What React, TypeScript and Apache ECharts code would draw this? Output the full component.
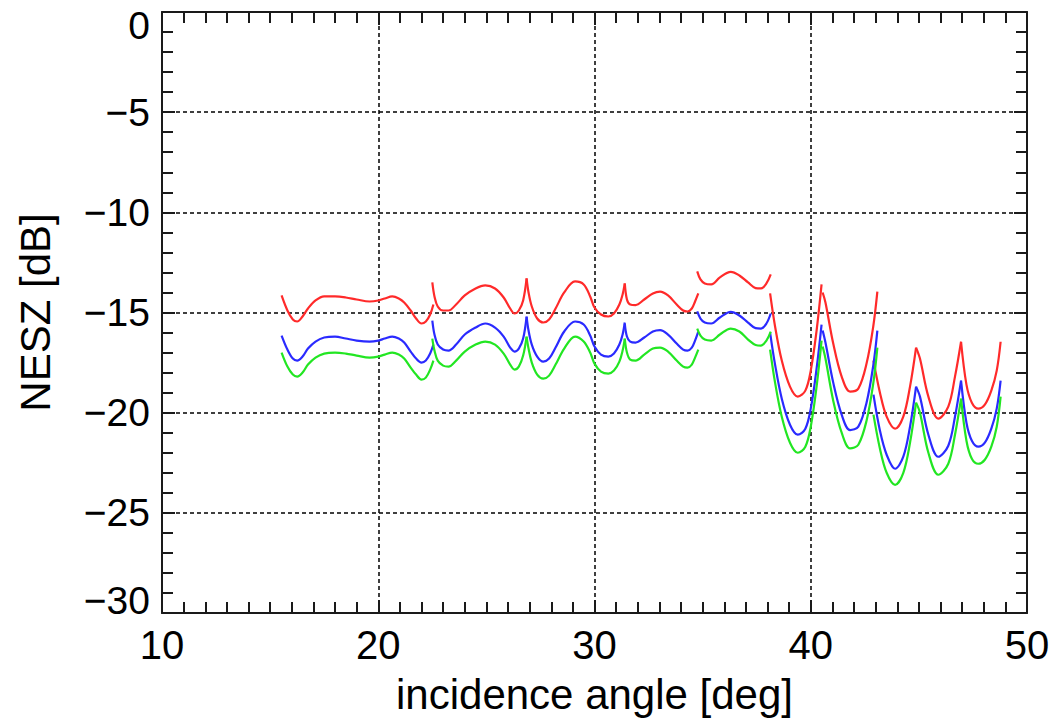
import React, { useEffect, useRef } from "react";
import * as echarts from "echarts";

// incidence angle [deg] sample positions, one list per beam
const angles: number[][] = [
  [15.53, 15.8, 16.05, 16.25, 16.5, 16.75, 17.1, 17.5, 18.0, 18.5, 19.0, 19.6, 20.0, 20.3, 20.65, 20.95, 21.2, 21.5, 21.75, 22.0, 22.2, 22.4, 22.55],
  [22.5, 22.6, 22.75, 23.0, 23.25, 23.6, 24.0, 24.5, 24.95, 25.4, 25.8, 26.1, 26.3, 26.5, 26.7, 26.86],
  [26.86, 26.95, 27.1, 27.35, 27.63, 27.9, 28.2, 28.6, 29.1, 29.5, 29.8, 30.0, 30.3, 30.64, 30.9, 31.15, 31.3, 31.4],
  [31.4, 31.5, 31.65, 31.9, 32.3, 32.7, 33.03, 33.4, 33.8, 34.1, 34.3, 34.5, 34.65, 34.8],
  [34.75, 34.9, 35.1, 35.4, 35.8, 36.3, 36.7, 37.1, 37.45, 37.7, 37.95, 38.15],
  [38.12, 38.35, 38.66, 39.04, 39.4, 39.75, 40.0, 40.27, 40.5],
  [40.55, 40.68, 41.04, 41.43, 41.82, 42.2, 42.58, 42.89, 43.08],
  [42.9, 43.2, 43.51, 43.9, 44.28, 44.59, 44.87],
  [44.87, 45.05, 45.44, 45.9, 46.36, 46.67, 46.95],
  [46.95, 47.2, 47.45, 47.75, 48.05, 48.35, 48.6, 48.78],
];

// NESZ [dB], red curve
const neszRed: number[][] = [
  [-14.15, -14.9, -15.35, -15.45, -15.2, -14.8, -14.4, -14.2, -14.2, -14.25, -14.35, -14.45, -14.4, -14.3, -14.2, -14.3, -14.5, -14.9, -15.3, -15.55, -15.45, -15.1, -14.6],
  [-13.5, -14.2, -14.7, -14.9, -14.9, -14.6, -14.15, -13.8, -13.65, -13.8, -14.25, -14.8, -15.05, -14.9, -14.4, -13.3],
  [-13.3, -14.0, -14.7, -15.3, -15.5, -15.35, -14.8, -14.0, -13.45, -13.6, -14.2, -14.75, -15.1, -15.2, -15.05, -14.6, -14.1, -13.55],
  [-13.55, -14.35, -14.6, -14.63, -14.35, -14.05, -13.96, -14.15, -14.6, -14.9, -14.95, -14.8, -14.45, -14.05],
  [-12.95, -13.35, -13.55, -13.6, -13.25, -12.97, -13.15, -13.5, -13.78, -13.8, -13.55, -13.1],
  [-14.05, -15.7, -17.4, -18.7, -19.2, -18.9, -17.9, -15.9, -13.6],
  [-14.0, -14.5, -16.55, -18.2, -18.95, -18.8, -17.55, -15.7, -13.96],
  [-17.4, -19.0, -20.2, -20.8, -20.2, -18.7, -16.75],
  [-16.75, -17.3, -19.2, -20.3, -19.7, -18.2, -16.46],
  [-16.46, -18.6, -19.5, -19.8, -19.6, -18.9, -17.9, -16.46],
];

// NESZ [dB], blue curve
const neszBlue: number[][] = [
  [-16.15, -16.85, -17.3, -17.4, -17.2, -16.8, -16.45, -16.25, -16.2, -16.3, -16.4, -16.45, -16.4, -16.3, -16.2, -16.3, -16.5, -16.95, -17.3, -17.5, -17.4, -17.05, -16.6],
  [-15.4, -16.1, -16.6, -16.85, -16.9, -16.6, -16.1, -15.75, -15.55, -15.75, -16.2, -16.75, -16.95, -16.8, -16.3, -15.2],
  [-15.2, -15.9, -16.6, -17.2, -17.45, -17.3, -16.75, -15.95, -15.45, -15.6, -16.15, -16.7, -17.1, -17.2, -17.05, -16.6, -16.1, -15.5],
  [-15.55, -16.2, -16.45, -16.5, -16.25, -15.95, -15.88, -16.1, -16.55, -16.85, -16.9, -16.75, -16.4, -15.95],
  [-14.95, -15.3, -15.5, -15.55, -15.25, -14.97, -15.15, -15.5, -15.78, -15.8, -15.55, -15.05],
  [-16.0, -17.6, -19.3, -20.6, -21.1, -20.8, -19.8, -17.8, -15.6],
  [-15.9, -16.5, -18.5, -20.1, -20.87, -20.7, -19.5, -17.65, -15.9],
  [-19.1, -20.9, -22.1, -22.8, -22.2, -20.7, -18.7],
  [-18.7, -19.2, -21.1, -22.2, -21.65, -20.2, -18.4],
  [-18.4, -20.5, -21.4, -21.7, -21.5, -20.8, -19.8, -18.4],
];

// NESZ [dB], green curve
const neszGreen: number[][] = [
  [-17.0, -17.7, -18.1, -18.2, -18.0, -17.6, -17.25, -17.05, -17.0, -17.05, -17.15, -17.25, -17.2, -17.1, -17.0, -17.1, -17.3, -17.75, -18.1, -18.35, -18.25, -17.85, -17.4],
  [-16.3, -16.9, -17.4, -17.65, -17.7, -17.4, -16.95, -16.6, -16.45, -16.6, -17.05, -17.6, -17.85, -17.7, -17.15, -16.2],
  [-16.2, -16.8, -17.5, -18.1, -18.3, -18.15, -17.6, -16.8, -16.2, -16.45, -17.0, -17.55, -17.95, -18.05, -17.9, -17.45, -16.9, -16.3],
  [-16.3, -17.0, -17.35, -17.4, -17.1, -16.8, -16.75, -16.95, -17.4, -17.7, -17.75, -17.6, -17.25, -16.85],
  [-15.8, -16.15, -16.35, -16.4, -16.1, -15.8, -15.95, -16.35, -16.62, -16.65, -16.4, -15.95],
  [-16.85, -18.5, -20.2, -21.5, -22.0, -21.7, -20.7, -18.7, -16.4],
  [-16.7, -17.3, -19.4, -21.0, -21.78, -21.6, -20.4, -18.55, -16.75],
  [-20.1, -21.8, -23.0, -23.6, -23.0, -21.5, -19.5],
  [-19.5, -20.0, -22.0, -23.1, -22.55, -21.1, -19.3],
  [-19.3, -21.4, -22.3, -22.55, -22.35, -21.7, -20.7, -19.2],
];

const curveColors = ["#ff2a2a", "#2a2aff", "#22e622"];
const curveSets = [neszRed, neszBlue, neszGreen];

const X_MIN = 10, X_MAX = 50, X_STEP = 10;
const Y_MIN = -30, Y_MAX = 0, Y_STEP = 5;

const FONT = "'Liberation Sans', Arial, Helvetica, sans-serif";
const AX = "#1a1a1a";

export default function App() {
  const ref = useRef<HTMLDivElement>(null);
  useEffect(() => {
    document.body.style.margin = "0";
    const chart = echarts.init(ref.current!, undefined, { renderer: "svg" });

    const series: any[] = [];
    curveSets.forEach((set, ci) => {
      set.forEach((vals, si) => {
        series.push({
          type: "line",
          xAxisIndex: 0,
          yAxisIndex: 0,
          data: angles[si].map((a, j) => [a, vals[j]]),
          showSymbol: false,
          symbol: "none",
          smooth: 0.35,
          silent: true,
          lineStyle: { color: curveColors[ci], width: 2.2 },
        });
      });
    });

    const tickStyle = { color: AX, width: 2 };
    const common = (isX: boolean) => ({
      type: "value",
      min: isX ? X_MIN : Y_MIN,
      max: isX ? X_MAX : Y_MAX,
      interval: isX ? X_STEP : Y_STEP,
      axisLine: { show: true, onZero: false, lineStyle: { color: AX, width: 2 } },
      axisTick: { show: true, inside: true, length: 13, lineStyle: tickStyle },
      minorTick: { show: true, splitNumber: isX ? 10 : 5, length: 11, lineStyle: tickStyle },
    });

    chart.setOption({
      animation: false,
      backgroundColor: "#ffffff",
      grid: { left: 162, right: 32, top: 12, bottom: 111, containLabel: false },
      xAxis: [
        {
          ...common(true),
          position: "bottom",
          splitLine: { show: true, lineStyle: { color: "#000", type: [4, 3], width: 1.5 } },
          axisLabel: { show: true, fontSize: 40, color: "#000", fontFamily: FONT, margin: 12 },
          name: "incidence angle [deg]",
          nameLocation: "middle",
          nameGap: 60,
          nameTextStyle: { fontSize: 42, color: "#000", fontFamily: FONT },
        },
        {
          ...common(true),
          position: "top",
          splitLine: { show: false },
          axisLabel: { show: false },
        },
      ],
      yAxis: [
        {
          ...common(false),
          position: "left",
          splitLine: { show: true, lineStyle: { color: "#000", type: [4, 3], width: 1.5 } },
          axisLabel: {
            show: true,
            fontSize: 39,
            lineHeight: 26,
            color: "#000",
            fontFamily: FONT,
            margin: 12,
            verticalAlignMaxLabel: "top",
            verticalAlignMinLabel: "bottom",
            formatter: (v: number) => (v < 0 ? "\u2212" + Math.abs(v) : String(v)),
          },
          name: "NESZ [dB]",
          nameLocation: "middle",
          nameGap: 106,
          nameRotate: 90,
          nameTextStyle: { fontSize: 42, color: "#000", fontFamily: FONT },
        },
        {
          ...common(false),
          position: "right",
          splitLine: { show: false },
          axisLabel: { show: false },
        },
      ],
      series,
    });
    return () => chart.dispose();
  }, []);
  return (
    <div
      ref={ref}
      style={{ position: "absolute", left: 0, top: 0, width: 1059, height: 724 }}
    />
  );
}
